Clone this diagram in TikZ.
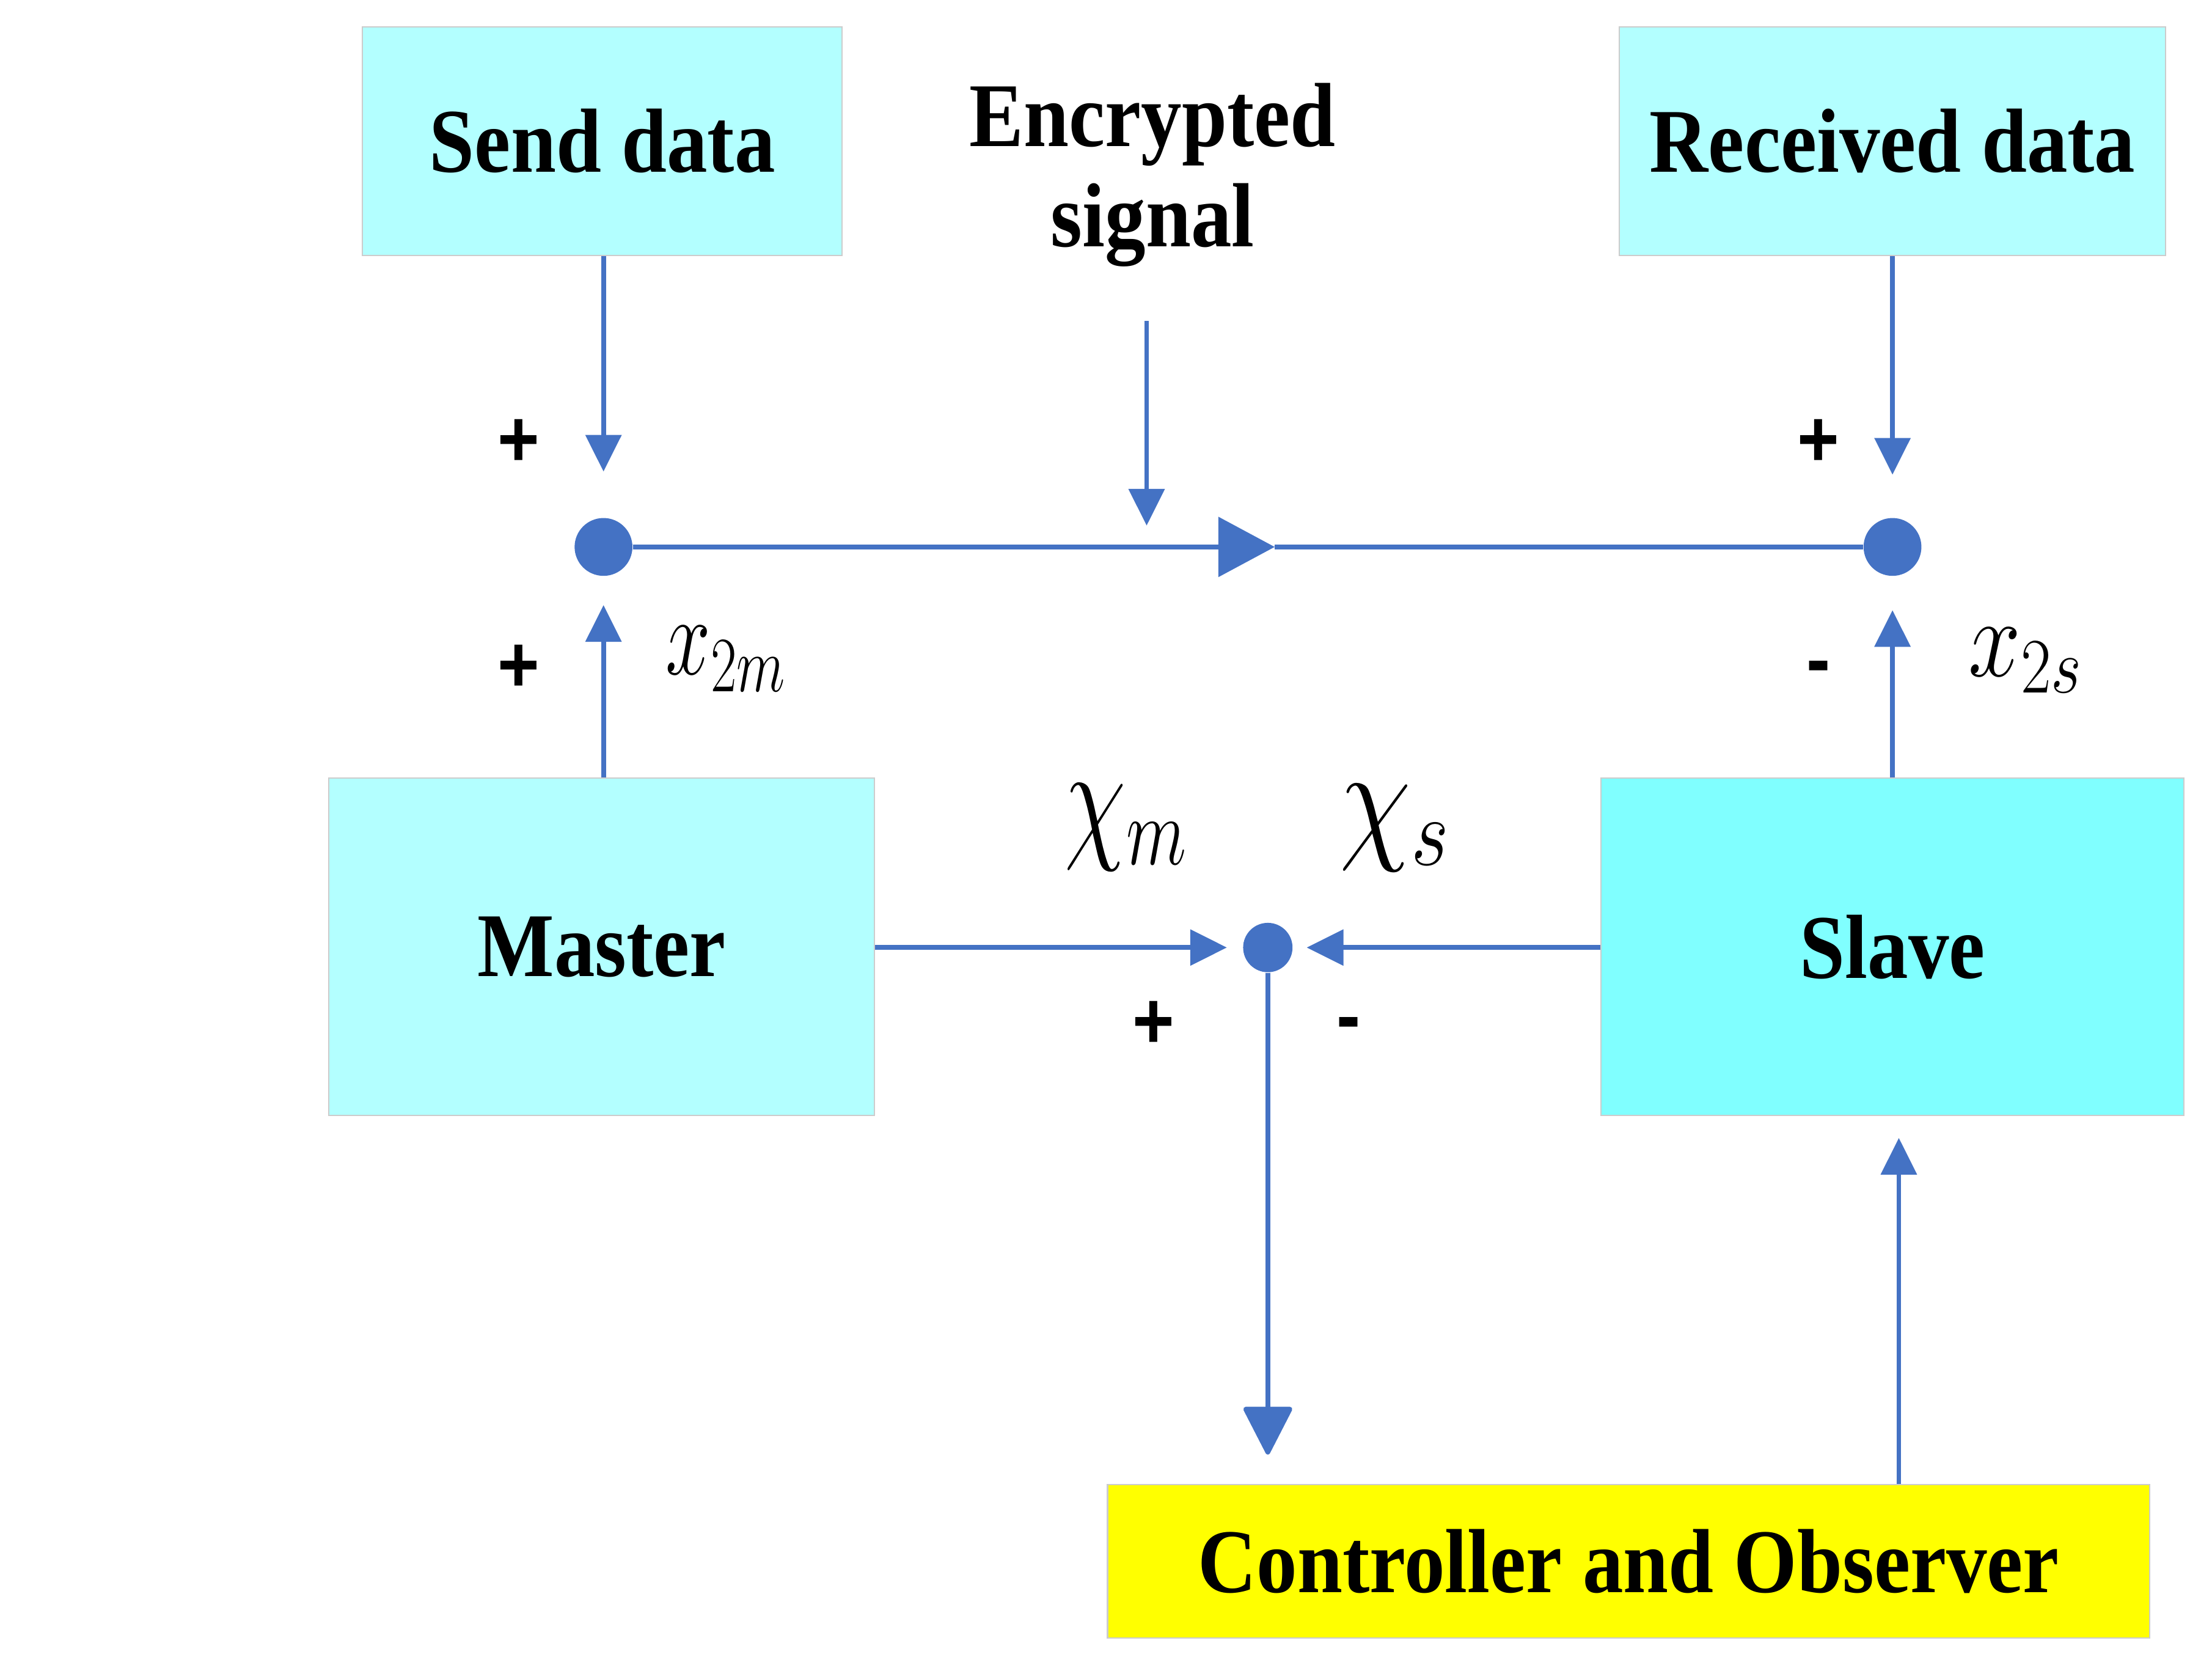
\RequirePackage{fix-cm}
\documentclass[tikz,border=0pt]{standalone}
\usepackage[no-math]{fontspec}
\setmainfont{Liberation Serif}
\newfontfamily\signfont{Liberation Sans}
\usetikzlibrary{arrows.meta}
\definecolor{lineblue}{HTML}{4472C4}
\definecolor{lightcyan}{HTML}{B3FFFF}
\definecolor{slavecyan}{HTML}{80FFFF}
\definecolor{boxedge}{HTML}{CCCCCC}
\definecolor{ctrlyellow}{HTML}{FFFF00}
\newcommand\vstr[1]{\scalebox{1}[1.12]{#1}}
\newcommand\mlbl[3]{\scalebox{#1}[1.25]{\fontsize{#2}{#2}\selectfont$#3$}}
\tikzset{
  box/.style={draw=boxedge, line width=0.5pt, inner sep=0pt,
    font=\fontsize{32.8}{34}\selectfont\bfseries},
  conn/.style={draw=lineblue, line width=1.95pt},
  arr/.style={conn, -{Triangle[length=0.52cm,width=0.5cm]}},
  bigarr/.style={conn, -{Triangle[length=0.72cm,width=0.72cm,round]}},
  midarr/.style={conn, -{Triangle[length=0.8cm,width=0.84cm]}},
  sumdot/.style={circle, fill=lineblue, inner sep=0pt, minimum size=0.82cm},
  smalldot/.style={circle, fill=lineblue, inner sep=0pt, minimum size=0.7cm},
  sign/.style={inner sep=0pt, font=\signfont\bfseries\fontsize{29}{30}\selectfont},
  mathlbl/.style={inner sep=0pt},
  plain/.style={inner sep=0pt, font=\fontsize{32.8}{36}\selectfont\bfseries}
}
\begin{document}
\begin{tikzpicture}[x=0.02cm, y=-0.02cm]
\useasboundingbox (0,0) rectangle (1568,1184);
% boxes
\node[box, fill=lightcyan, minimum width=6.8cm, minimum height=3.24cm] (send) at (427,100) {\vstr{Send data}};
\node[box, fill=lightcyan, minimum width=7.74cm, minimum height=3.24cm] (recv) at (1341.5,100) {\vstr{Received data}};
\node[box, fill=lightcyan, minimum width=7.74cm, minimum height=4.784cm] (master) at (426.5,671.1) {\vstr{Master}};
\node[box, fill=slavecyan, minimum width=8.26cm, minimum height=4.784cm] (slave) at (1341.5,671.1) {\vstr{Slave}};
\node[box, fill=ctrlyellow, minimum width=14.78cm, minimum height=2.18cm] (ctrl) at (1154.5,1106.5) {\vstr{Controller and Observer}};
\node[plain, anchor=north] (enc) at (817,54) {\vstr{\begin{tabular}{@{}c@{}}Encrypted\\signal\end{tabular}}};
% summing points
\node[sumdot] (lsum) at (427.8,387.6) {};
\node[sumdot] (rsum) at (1341.5,387.6) {};
\node[smalldot] (msum) at (898.7,671.5) {};
% coordinates
\coordinate (sendtip) at (427.8,334.2);
\coordinate (enctop) at (812.8,227.4);
\coordinate (enctip) at (812.8,372.5);
\coordinate (recvtip) at (1341.5,336.4);
\coordinate (mastertip) at (427.8,428.8);
\coordinate (slavetip) at (1341.5,432.4);
\coordinate (mid) at (903.6,387.6);
\coordinate (mtip) at (869.7,671.5);
\coordinate (stip) at (926.3,671.5);
\coordinate (ctip) at (898.7,1030.8);
\coordinate (fbtip) at (1346,806.4);
% connectors
\draw[arr] (sendtip |- send.south) -- (sendtip);
\draw[arr] (enctop) -- (enctip);
\draw[arr] (recvtip |- recv.south) -- (recvtip);
\draw[arr] (mastertip |- master.north) -- (mastertip);
\draw[arr] (slavetip |- slave.north) -- (slavetip);
\draw[midarr] (lsum.east) -- (mid);
\draw[conn] (mid) -- (rsum.west);
\draw[arr] (mtip -| master.east) -- (mtip);
\draw[arr] (stip -| slave.west) -- (stip);
\draw[bigarr] (msum.south) -- (ctip);
\draw[arr] (fbtip |- ctrl.north) -- (fbtip);
% signs
\node[sign] (s1) at (367.5,314) {\vstr{+}};
\node[sign] (s2) at (367.5,474) {\vstr{+}};
\node[sign] (s3) at (1289,314) {\vstr{+}};
\node[sign] (s4) at (1289,477.5) {\vstr{-}};
\node[sign] (s5) at (817.5,726.5) {\vstr{+}};
\node[sign] (s6) at (956,730) {\vstr{-}};
% math labels
\node[mathlbl] (x2m) at (514.7,467) {\mlbl{0.9}{36.2}{x_{2m}}};
\node[mathlbl] (x2s) at (1436,468) {\mlbl{1.05}{36.2}{x_{2s}}};
\node[mathlbl] (chim) at (798.3,586.4) {\mlbl{0.9}{44.8}{\chi_m}};
\node[mathlbl] (chis) at (989,586.8) {\mlbl{1.05}{44.8}{\chi_s}};
\end{tikzpicture}
\end{document}
